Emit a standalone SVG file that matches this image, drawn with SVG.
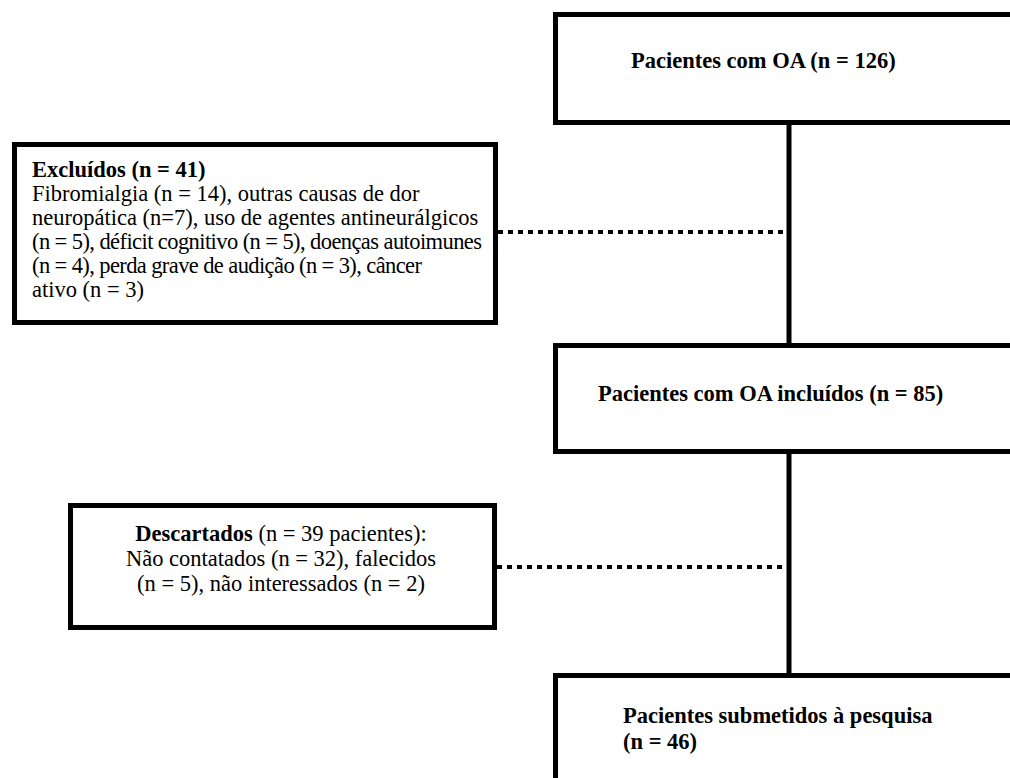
<svg xmlns="http://www.w3.org/2000/svg" width="1010" height="778" viewBox="0 0 1010 778">
<style>
.box{fill:#fff;stroke:#000;stroke-width:5}
.t{font-family:"Liberation Serif","Times New Roman",serif;font-size:22.5px;fill:#000}
.b{font-weight:bold}
.solid{stroke:#000;stroke-width:5;fill:none}
.dot{stroke:#000;stroke-width:4;stroke-dasharray:5 5;fill:none}
</style>
<rect width="1010" height="778" fill="#fff"/>
<g id="connectors">
<line class="solid" x1="789" y1="122" x2="789" y2="346"/>
<line class="solid" x1="789" y1="451" x2="789" y2="676"/>
<line class="dot" x1="498" y1="232" x2="787" y2="232"/>
<line class="dot" x1="497" y1="567" x2="787" y2="567"/>
</g>
<g id="n1">
<rect class="box" x="555.5" y="14.5" width="470" height="108"/>
<text class="t b" x="631" y="68">Pacientes com OA (n = 126)</text>
</g>
<g id="n2">
<rect class="box" x="14.5" y="144.5" width="481" height="178"/>
<text class="t" x="32"><tspan class="b" x="32" y="177">Excluídos (n = 41)</tspan><tspan x="32" y="201">Fibromialgia (n = 14), outras causas de dor</tspan><tspan x="32" y="225">neuropática (n=7), uso de agentes antineurálgicos</tspan></text>
<text class="t" x="32" y="249" textLength="450" lengthAdjust="spacing">(n = 5), déficit cognitivo (n = 5), doenças autoimunes</text>
<text class="t" x="32" y="273" textLength="390" lengthAdjust="spacing">(n = 4), perda grave de audição (n = 3), câncer</text>
<text class="t" x="32" y="297">ativo (n = 3)</text>
</g>
<g id="n3">
<rect class="box" x="555.5" y="345.5" width="470" height="106"/>
<text class="t b" x="598" y="401">Pacientes com OA incluídos (n = 85)</text>
</g>
<g id="n4">
<rect class="box" x="70.5" y="505.5" width="424" height="122"/>
<text class="t" text-anchor="middle"><tspan x="281" y="541"><tspan class="b">Descartados</tspan> (n = 39 pacientes):</tspan><tspan x="281" y="566">Não contatados (n = 32), falecidos</tspan><tspan x="281" y="591">(n = 5), não interessados (n = 2)</tspan></text>
</g>
<g id="n5">
<rect class="box" x="555.5" y="675.5" width="470" height="120"/>
<text class="t b"><tspan x="623" y="723">Pacientes submetidos à pesquisa</tspan><tspan x="623" y="749">(n = 46)</tspan></text>
</g>
</svg>
